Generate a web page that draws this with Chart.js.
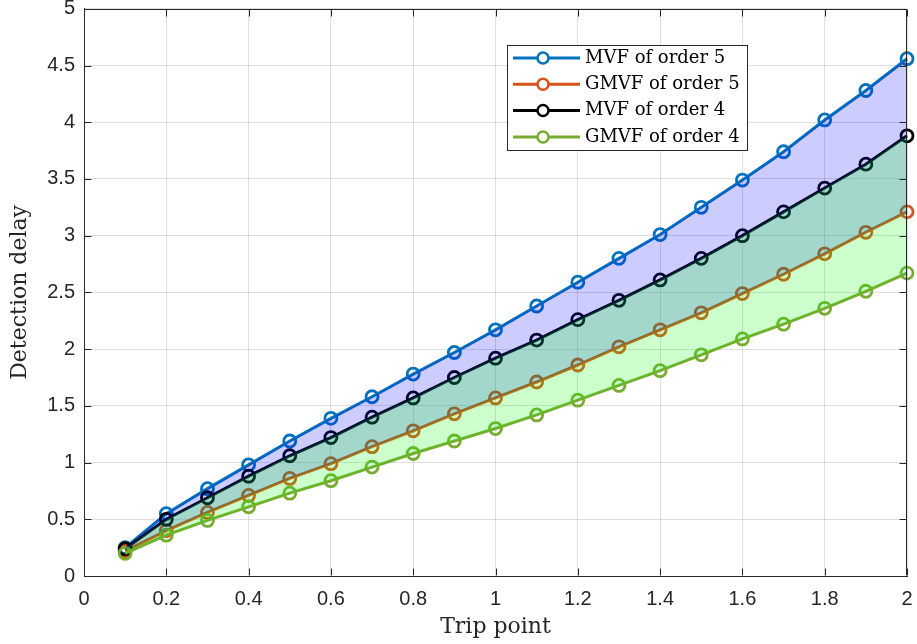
<!DOCTYPE html>
<html>
<head>
<meta charset="utf-8">
<script src="https://cdn.jsdelivr.net/npm/chart.js@4.4.1/dist/chart.umd.min.js"></script>
<style>
  html, body { margin: 0; padding: 0; background: #fff; }
  #wrap { width: 917px; height: 644px; }
</style>
</head>
<body>
<div id="wrap"><canvas id="delayChart"></canvas></div>
<script>
const tripPoints = [0.1, 0.2, 0.3, 0.4, 0.5, 0.6, 0.7, 0.8, 0.9, 1.0,
                    1.1, 1.2, 1.3, 1.4, 1.5, 1.6, 1.7, 1.8, 1.9, 2.0];
const mvf5  = [0.25, 0.55, 0.77, 0.98, 1.19, 1.39, 1.58, 1.78, 1.97, 2.17,
               2.38, 2.59, 2.80, 3.01, 3.25, 3.49, 3.74, 4.02, 4.28, 4.56];
const gmvf5 = [0.22, 0.40, 0.56, 0.71, 0.86, 0.99, 1.14, 1.28, 1.43, 1.57,
               1.71, 1.86, 2.02, 2.17, 2.32, 2.49, 2.66, 2.84, 3.03, 3.21];
const mvf4  = [0.24, 0.50, 0.69, 0.88, 1.06, 1.22, 1.40, 1.57, 1.75, 1.92,
               2.08, 2.26, 2.43, 2.61, 2.80, 3.00, 3.21, 3.42, 3.63, 3.88];
const gmvf4 = [0.20, 0.36, 0.49, 0.61, 0.73, 0.84, 0.96, 1.08, 1.19, 1.30,
               1.42, 1.55, 1.68, 1.81, 1.95, 2.09, 2.22, 2.36, 2.51, 2.67];
const xTicks = [0, 0.2, 0.4, 0.6, 0.8, 1, 1.2, 1.4, 1.6, 1.8, 2];
const yTicks = [0, 0.5, 1, 1.5, 2, 2.5, 3, 3.5, 4, 4.5, 5];

const ink = '#262626';
const serif = '"DejaVu Serif", "Liberation Serif", serif';
const toXY = ys => ys.map((y, i) => ({ x: tripPoints[i], y: y }));
const shortNum = v => String(+Number(v).toFixed(2));

function series(label, values, color, order) {
    return {
        label: label,
        data: toXY(values),
        borderColor: color,
        borderWidth: 3,
        pointRadius: 6,
        pointBorderWidth: 2.8,
        pointBorderColor: color,
        pointBackgroundColor: 'rgba(0,0,0,0)',
        backgroundColor: color,
        tension: 0,
        fill: false,
        clip: false,
        order: order
    };
}

// shaded bands painted over the lines, like the matlab fill patches
const bandFill = {
    id: 'bandFill',
    afterDatasetsDraw(chart, args, opts) {
        const { ctx, chartArea: a } = chart;
        ctx.save();
        ctx.beginPath();
        ctx.rect(a.left, a.top, a.right - a.left, a.bottom - a.top);
        ctx.clip();
        opts.bands.forEach(b => {
            const upper = chart.getDatasetMeta(b.from).data;
            const lower = chart.getDatasetMeta(b.to).data;
            ctx.beginPath();
            upper.forEach((p, i) => i ? ctx.lineTo(p.x, p.y) : ctx.moveTo(p.x, p.y));
            for (let i = lower.length - 1; i >= 0; i--) ctx.lineTo(lower[i].x, lower[i].y);
            ctx.closePath();
            ctx.fillStyle = b.color;
            ctx.fill();
        });
        ctx.restore();
    }
};

// box round the axes with inward ticks on all four sides
const axesBox = {
    id: 'axesBox',
    afterDatasetsDraw(chart) {
        const { ctx, chartArea: a, scales } = chart;
        const L = Math.round(a.left) + 0.5, R = Math.round(a.right) - 0.5;
        const T = Math.round(a.top) + 0.5, B = Math.round(a.bottom) - 0.5;
        const len = 7;
        ctx.save();
        ctx.strokeStyle = ink;
        ctx.lineWidth = 1;
        ctx.beginPath();
        ctx.moveTo(L, T); ctx.lineTo(R, T); ctx.lineTo(R, B);
        xTicks.forEach(v => {
            const px = Math.round(scales.x.getPixelForValue(v)) + 0.5;
            ctx.moveTo(px, B); ctx.lineTo(px, B - len);
            ctx.moveTo(px, T); ctx.lineTo(px, T + len);
        });
        yTicks.forEach(v => {
            const py = Math.round(scales.y.getPixelForValue(v)) + 0.5;
            ctx.moveTo(L, py); ctx.lineTo(L + len, py);
            ctx.moveTo(R, py); ctx.lineTo(R - len, py);
        });
        ctx.stroke();
        ctx.restore();
    }
};

// matlab style legend box inside the axes
const boxLegend = {
    id: 'boxLegend',
    afterDraw(chart, args, opts) {
        const { ctx } = chart;
        const { x, y, w, h, rowTop, rowStep } = opts;
        ctx.save();
        ctx.fillStyle = '#fff';
        ctx.fillRect(x, y, w, h);
        ctx.strokeStyle = ink;
        ctx.lineWidth = 1;
        ctx.strokeRect(x + 0.5, y + 0.5, w, h);
        chart.data.datasets.forEach((ds, i) => {
            const cy = y + rowTop + i * rowStep;
            ctx.strokeStyle = ds.borderColor;
            ctx.lineWidth = 3;
            ctx.beginPath();
            ctx.moveTo(x + 6, cy); ctx.lineTo(x + 73, cy);
            ctx.stroke();
            ctx.beginPath();
            ctx.arc(x + 36, cy, 5.5, 0, Math.PI * 2);
            ctx.fillStyle = '#fff';
            ctx.fill();
            ctx.lineWidth = 2.5;
            ctx.stroke();
            ctx.fillStyle = '#000';
            ctx.font = '18px ' + serif;
            ctx.textBaseline = 'middle';
            ctx.fillText(ds.label, x + 78, cy);
        });
        ctx.restore();
    }
};

Chart.defaults.font.family = '"Liberation Sans", Arial, sans-serif';
Chart.defaults.color = ink;

new Chart(document.getElementById('delayChart'), {
    type: 'line',
    data: {
        datasets: [
            series('MVF of order 5', mvf5, '#0072BD', 4),
            series('GMVF of order 5', gmvf5, '#D95319', 3),
            series('MVF of order 4', mvf4, '#000000', 2),
            series('GMVF of order 4', gmvf4, '#77AC30', 1)
        ]
    },
    plugins: [bandFill, axesBox, boxLegend],
    options: {
        responsive: true,
        maintainAspectRatio: false,
        animation: false,
        layout: { padding: { top: 7, right: 10, left: 0, bottom: 0 } },
        plugins: {
            legend: { display: false },
            tooltip: { enabled: false },
            bandFill: {
                bands: [
                    { from: 0, to: 1, color: 'rgba(0,0,255,0.2)' },
                    { from: 2, to: 3, color: 'rgba(0,255,0,0.2)' }
                ]
            },
            boxLegend: { x: 507, y: 45, w: 240, h: 105, rowTop: 13, rowStep: 26.3 }
        },
        scales: {
            x: {
                type: 'linear',
                min: 0,
                max: 2,
                afterBuildTicks: s => { s.ticks = xTicks.map(v => ({ value: v })); },
                afterFit: s => { s.height = 68; s.paddingLeft = 0; s.paddingRight = 0; },
                grid: { color: 'rgba(38,38,38,0.15)', drawTicks: false },
                border: { color: ink },
                ticks: { color: ink, font: { size: 20 }, padding: 11, maxRotation: 0, autoSkip: false, callback: shortNum },
                title: {
                    display: true,
                    text: 'Trip point',
                    color: ink,
                    font: { family: serif, size: 22 },
                    padding: { top: 0, bottom: 4 }
                }
            },
            y: {
                min: 0,
                max: 5,
                afterBuildTicks: s => { s.ticks = yTicks.map(v => ({ value: v })); },
                afterFit: s => { s.width = 84; s.paddingTop = 0; s.paddingBottom = 0; },
                grid: { color: 'rgba(38,38,38,0.15)', drawTicks: false },
                border: { color: ink },
                ticks: { color: ink, font: { size: 20 }, padding: 9, callback: shortNum },
                title: {
                    display: true,
                    text: 'Detection delay',
                    color: ink,
                    font: { family: serif, size: 22 },
                    padding: { top: 7, bottom: 0 }
                }
            }
        }
    }
});
</script>
</body>
</html>
